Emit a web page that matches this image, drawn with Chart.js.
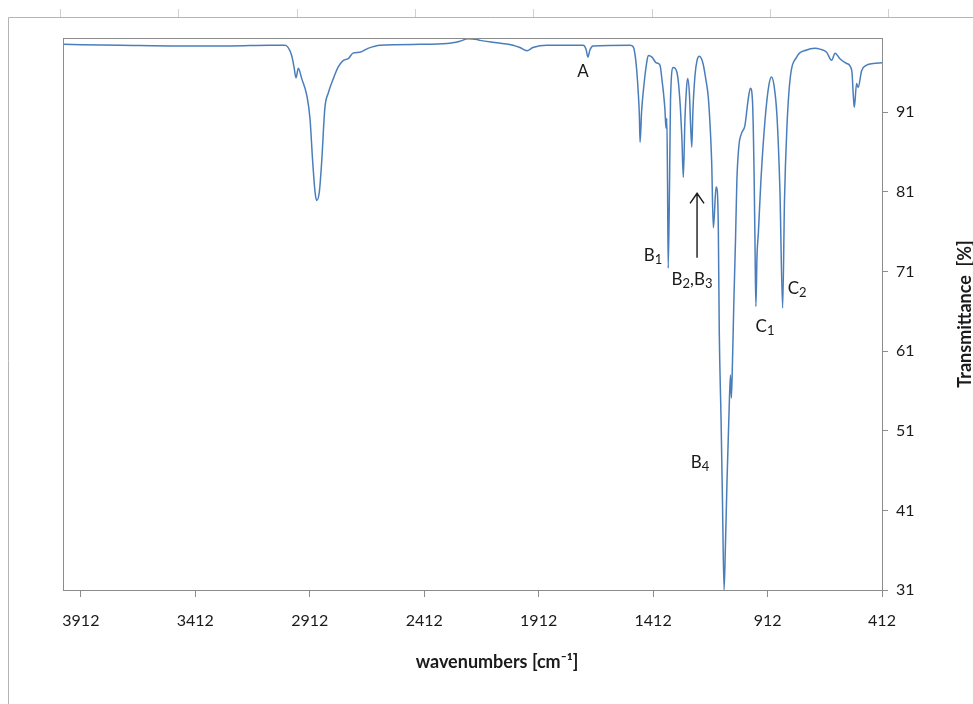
<!DOCTYPE html>
<html lang="en">
<head>
<meta charset="UTF-8">
<title>IR spectrum</title>
<script src="https://cdn.jsdelivr.net/npm/chart.js"></script>
<style>
  html, body { margin: 0; padding: 0; background: #fff; }
</style>
</head>
<body>
<canvas id="irChart" width="973" height="704"></canvas>
<script>
// functional group region (3990 - 1513 cm-1)
const highWn = [3990, 3741, 3479, 3261, 3086, 3020,
  2991, 2981, 2972, 2962, 2947, 2925, 2911, 2899, 2889, 2882, 2870, 2860, 2846, 2831, 2809, 2787, 2765, 2744, 2723, 2693, 2658,
  2605, 2430, 2312, 2256, 2221, 2181, 2168, 2094, 2024, 1994, 1963, 1937, 1876, 1718, 1705, 1697, 1688, 1675, 1513];
const highT = [99.5, 99.4, 99.3, 99.3, 99.4, 99.4,
  98.1, 96.7, 95.3, 96.5, 95.2, 93.1, 90.2, 84.7, 81.0, 79.9, 81.0, 84.7, 91.5, 93.4, 95.2, 96.7, 97.5, 97.7, 98.4, 98.5, 99.0,
  99.4, 99.5, 99.6, 99.9, 100.2, 100.1, 100.0, 99.7, 99.4, 99.1, 98.7, 99.1, 99.4, 99.4, 98.9, 97.9, 98.8, 99.3, 99.4];

// fingerprint region (1499 - 412 cm-1)
const lowWn = [1499, 1487, 1477, 1472, 1469, 1462, 1452, 1440, 1433, 1417,
  1399, 1382, 1373, 1367, 1360, 1356, 1352, 1349, 1346, 1340,
  1336, 1324, 1308, 1295, 1286, 1280, 1273, 1266, 1261, 1253,
  1248, 1243, 1238, 1229, 1220, 1210, 1194, 1181, 1171, 1163,
  1156, 1149, 1145, 1137, 1132, 1127, 1123, 1115, 1109, 1102,
  1096, 1089, 1080, 1074, 1070, 1065, 1059, 1052, 1046, 1037,
  1026, 1011, 997, 987, 978, 971, 967, 963, 958, 952,
  941, 923, 906, 895, 884, 871, 858, 846, 838, 828,
  814, 785, 741, 705, 683, 654, 632, 617, 596, 566,
  544, 537, 533, 523, 516, 501, 479, 450, 412];
const lowT = [99.2, 97.3, 93.5, 90.6, 87.2, 91.2, 94.4, 97.2, 98.1, 97.9,
  97.2, 96.9, 95.0, 93.5, 91.2, 89.0, 90.2, 82.4, 71.4, 82.4,
  92.5, 96.6, 96.0, 92.5, 87.5, 82.8, 90.0, 94.0, 95.2, 93.1,
  89.3, 86.6, 91.2, 95.6, 97.5, 98.0, 97.1, 95.0, 92.9, 89.3,
  84.6, 76.5, 77.8, 81.6, 81.2, 76.2, 63.6, 52.3, 42.3, 31.0,
  36.6, 44.8, 53.6, 58.0, 55.1, 59.9, 67.4, 74.9, 82.4, 86.8,
  88.3, 89.3, 92.5, 94.0, 92.5, 83.7, 74.9, 66.6, 73.0, 75.9,
  82.4, 90.0, 94.4, 95.4, 94.4, 90.6, 81.2, 66.4, 79.9, 88.7,
  95.0, 97.9, 98.8, 99.0, 98.9, 98.5, 97.5, 98.4, 97.7, 97.1,
  96.2, 92.9, 91.6, 94.6, 94.1, 96.2, 96.9, 97.1, 97.2];

const xTicks = [3912, 3412, 2912, 2412, 1912, 1412, 912, 412];
const yTicks = [31, 41, 51, 61, 71, 81, 91];
const xTitle = 'wavenumbers [cm\u207B\u00B9]';
const yTitle = 'Transmittance  [%]';

// peak labels
const peakNames = ['A', 'B\u2081', 'B\u2082,B\u2083', 'B\u2084', 'C\u2081', 'C\u2082'];
const peakWn = [1718, 1412, 1242, 1207, 923, 783];
const peakT = [96.2, 73.0, 70.1, 47.1, 64.2, 68.9];
const arrowWn = 1220;
const arrowT = [72.7, 80.8];

const allWn = highWn.concat(lowWn);
const allT = highT.concat(lowT);
const points = allWn.map((w, i) => ({x: w, y: allT[i]}));

const FONT = 'Lato, "Liberation Sans", sans-serif';
const SUBS = '\u2080\u2081\u2082\u2083\u2084\u2085\u2086\u2087\u2088\u2089';

// draw a label with unicode subscript digits as real lowered small digits
function drawLabel(ctx, text, cx, cy) {
  const parts = Array.from(text).map(ch => {
    const k = SUBS.indexOf(ch);
    return k >= 0 ? {t: String(k), sub: true} : {t: ch, sub: false};
  });
  const big = '17px ' + FONT, small = '13px ' + FONT;
  let w = 0;
  parts.forEach(p => { ctx.font = p.sub ? small : big; p.w = ctx.measureText(p.t).width; w += p.w; });
  let px = cx - w / 2;
  ctx.textAlign = 'left';
  ctx.textBaseline = 'alphabetic';
  parts.forEach(p => {
    ctx.font = p.sub ? small : big;
    ctx.fillText(p.t, px, cy + 6 + (p.sub ? 3 : 0));
    px += p.w;
  });
}

const overlay = {
  id: 'overlay',
  beforeDraw(chart) {
    const ctx = chart.ctx;
    ctx.save();
    ctx.fillStyle = '#fff';
    ctx.fillRect(0, 0, chart.width, chart.height);
    // outer frame of the picture
    ctx.strokeStyle = '#b4b4b4';
    ctx.lineWidth = 1;
    ctx.beginPath();
    ctx.moveTo(8.5, chart.height);
    ctx.lineTo(8.5, 17.5);
    ctx.lineTo(chart.width, 17.5);
    ctx.stroke();
    ctx.strokeStyle = '#d0d0d0';
    ctx.beginPath();
    for (let i = 0; i < 8; i++) {
      const px = Math.round(60 + i * 118.3) + 0.5;
      ctx.moveTo(px, 9);
      ctx.lineTo(px, 17);
    }
    ctx.stroke();
    ctx.restore();
  },
  afterDraw(chart) {
    const {ctx, chartArea: a, scales: {x, y}} = chart;
    ctx.save();
    // plot area border
    ctx.strokeStyle = '#8c8c8c';
    ctx.lineWidth = 1;
    ctx.strokeRect(a.left + 0.5, a.top + 0.5, a.right - a.left, a.bottom - a.top);

    // peak names
    ctx.fillStyle = '#1a1a1a';
    peakNames.forEach((name, i) => {
      drawLabel(ctx, name, x.getPixelForValue(peakWn[i]), y.getPixelForValue(peakT[i]));
    });

    // arrow pointing at B2, B3
    const ax = x.getPixelForValue(arrowWn);
    const y0 = y.getPixelForValue(arrowT[0]);
    const y1 = y.getPixelForValue(arrowT[1]);
    ctx.strokeStyle = '#1a1a1a';
    ctx.lineWidth = 1.4;
    ctx.beginPath();
    ctx.moveTo(ax, y0);
    ctx.lineTo(ax, y1);
    ctx.moveTo(ax - 7, y1 + 10);
    ctx.lineTo(ax, y1);
    ctx.lineTo(ax + 7, y1 + 10);
    ctx.stroke();

    // x axis title
    ctx.textAlign = 'center';
    ctx.textBaseline = 'middle';
    ctx.font = 'bold 18px ' + FONT;
    ctx.fillText(xTitle, 497, 662);

    // y axis title, reading bottom to top
    ctx.translate(965, (a.top + a.bottom) / 2);
    ctx.rotate(-Math.PI / 2);
    ctx.font = 'bold 18px ' + FONT;
    ctx.fillText(yTitle, 0, 0);
    ctx.restore();
  }
};

new Chart(document.getElementById('irChart'), {
  type: 'scatter',
  data: {
    datasets: [{
      label: 'Transmittance',
      data: points,
      showLine: true,
      borderColor: '#4a7ebb',
      borderWidth: 1.5,
      pointRadius: 0,
      cubicInterpolationMode: 'monotone'
    }]
  },
  options: {
    responsive: false,
    animation: false,
    devicePixelRatio: 1,
    layout: { padding: { left: 63, top: 38, right: 0, bottom: 0 } },
    plugins: {
      legend: { display: false },
      tooltip: { enabled: false }
    },
    scales: {
      x: {
        type: 'linear',
        position: 'bottom',
        reverse: true,
        min: 412,
        max: 3990,
        afterBuildTicks: scale => { scale.ticks = xTicks.map(v => ({value: v})); },
        afterFit: scale => { scale.height = 114; },
        ticks: {
          autoSkip: false,
          maxRotation: 0,
          padding: 14,
          color: '#1a1a1a',
          font: { family: FONT, size: 16 },
          callback: v => String(v)
        },
        grid: { drawOnChartArea: false, drawTicks: true, tickLength: 7, color: '#8c8c8c' },
        border: { display: true, color: '#8c8c8c' },
        title: { display: false }
      },
      y: {
        type: 'linear',
        position: 'right',
        min: 31,
        max: 100.3,
        afterBuildTicks: scale => { scale.ticks = yTicks.map(v => ({value: v})); },
        afterFit: scale => { scale.width = 91; },
        ticks: {
          padding: 8,
          color: '#1a1a1a',
          font: { family: FONT, size: 16 },
          callback: v => String(v)
        },
        grid: { drawOnChartArea: false, drawTicks: true, tickLength: 6, color: '#8c8c8c' },
        border: { display: true, color: '#8c8c8c' }
      }
    }
  },
  plugins: [overlay]
});
</script>
</body>
</html>
